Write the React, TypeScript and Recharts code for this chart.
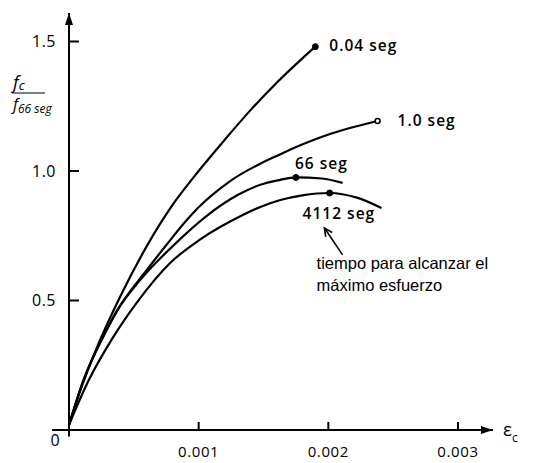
import React from 'react';
import { LineChart, Line, XAxis, YAxis, ReferenceDot, ReferenceLine } from 'recharts';

// strain (x) vs f_c / f_66seg (y)
const curve004 = [
  { x: 0, y: 0.02 }, { x: 0.0001, y: 0.17 }, { x: 0.0002, y: 0.3 }, { x: 0.0004, y: 0.52 },
  { x: 0.0006, y: 0.71 }, { x: 0.0008, y: 0.87 }, { x: 0.001, y: 1.0 }, { x: 0.0012, y: 1.12 },
  { x: 0.0014, y: 1.235 }, { x: 0.0016, y: 1.34 }, { x: 0.0018, y: 1.435 }, { x: 0.0019, y: 1.48 },
];
const curve1 = [
  { x: 0, y: 0.02 }, { x: 0.00011, y: 0.19 }, { x: 0.00029, y: 0.386 }, { x: 0.00037, y: 0.46 },
  { x: 0.0006, y: 0.618 }, { x: 0.00076, y: 0.72 }, { x: 0.00089, y: 0.8 }, { x: 0.00099, y: 0.855 },
  { x: 0.00124, y: 0.96 }, { x: 0.00163, y: 1.065 }, { x: 0.00199, y: 1.139 }, { x: 0.00238, y: 1.193 },
];
const curve66 = [
  { x: 0, y: 0.02 }, { x: 0.00011, y: 0.19 }, { x: 0.00029, y: 0.386 }, { x: 0.00037, y: 0.46 },
  { x: 0.00055, y: 0.58 }, { x: 0.0008, y: 0.71 }, { x: 0.00106, y: 0.826 }, { x: 0.0013, y: 0.907 },
  { x: 0.00147, y: 0.946 }, { x: 0.00163, y: 0.966 }, { x: 0.00175, y: 0.975 }, { x: 0.00195, y: 0.971 },
  { x: 0.00211, y: 0.954 },
];
const curve4112 = [
  { x: 0, y: 0.02 }, { x: 0.00015, y: 0.19 }, { x: 0.00033, y: 0.35 }, { x: 0.00052, y: 0.49 },
  { x: 0.00078, y: 0.645 }, { x: 0.00101, y: 0.735 }, { x: 0.00134, y: 0.83 }, { x: 0.00147, y: 0.86 },
  { x: 0.00163, y: 0.888 }, { x: 0.0018, y: 0.906 }, { x: 0.00201, y: 0.915 }, { x: 0.00222, y: 0.897 },
  { x: 0.00241, y: 0.857 },
];

const seriesCurves = [curve004, curve1, curve66, curve4112];
const markerPoints = [
  { x: 0.0019, y: 1.48 },
  { x: 0.00238, y: 1.193 },
  { x: 0.00175, y: 0.975 },
  { x: 0.00201, y: 0.915 },
];
const markerLabels = ['0.04 seg', '1.0 seg', '66 seg', '4112 seg'];
const arrowFrom = { x: 0.00211, y: 0.676 };
const arrowTo = { x: 0.00197, y: 0.78 };
const noteLines = ['tiempo para alcanzar el', 'máximo esfuerzo'];

const xTicks = [0, 0.001, 0.002, 0.003];
const yTicks = [0.5, 1.0, 1.5];

const labelFont = '"Open Sans", sans-serif';
// pixel offsets of the series labels from their marker
const labelOffsets = [
  { dx: 14, dy: -2 },
  { dx: 20, dy: -1 },
  { dx: -1, dy: -14 },
  { dx: -27, dy: 20 },
];

const YTick = (props: any) => {
  const { x, y, payload } = props;
  return (
    <g>
      <line x1={x} x2={x + 10} y1={y} y2={y} stroke="#000" strokeWidth={2} />
      <text x={x - 13} y={y} textAnchor="end" dominantBaseline="central" fontFamily={labelFont} fontSize={16} letterSpacing={0.5} fill="#000">
        {payload.value.toFixed(1)}
      </text>
    </g>
  );
};

const XTick = (props: any) => {
  const { x, y, payload } = props;
  if (payload.value === 0) {
    return (
      <text x={x - 14} y={y + 10} textAnchor="middle" dominantBaseline="central" fontFamily={labelFont} fontSize={16} fill="#000">
        0
      </text>
    );
  }
  return (
    <g>
      <line x1={x} x2={x} y1={y} y2={y - 8} stroke="#000" strokeWidth={2} />
      <text x={x} y={y + 21} textAnchor="middle" dominantBaseline="central" fontFamily={labelFont} fontSize={15} letterSpacing={0.6} fill="#000">
        {payload.value.toFixed(3)}
      </text>
    </g>
  );
};

const markerShape = (i: number) => (p: any) => {
  const open = i === 1;
  const off = labelOffsets[i];
  return (
    <g>
      <circle
        cx={p.cx}
        cy={p.cy}
        r={open ? 2.5 : 3}
        fill={open ? '#fff' : '#000'}
        stroke="#000"
        strokeWidth={open ? 1.5 : 1}
      />
      <text
        x={p.cx + off.dx}
        y={p.cy + off.dy}
        dominantBaseline="central"
        fontFamily={labelFont}
        fontWeight={600}
        fontSize={15.5}
        letterSpacing={1}
        fill="#000"
      >
        {markerLabels[i]}
      </text>
    </g>
  );
};

const arrowShape = (p: any) => {
  const { x1, y1, x2, y2 } = p;
  const ang = Math.atan2(y2 - y1, x2 - x1);
  const len = 9;
  const a1 = ang + Math.PI - 0.45;
  const a2 = ang + Math.PI + 0.45;
  return (
    <g>
      <line x1={x1} y1={y1} x2={x2} y2={y2} stroke="#000" strokeWidth={1.6} />
      <polyline
        points={`${x2 + len * Math.cos(a1)},${y2 + len * Math.sin(a1)} ${x2},${y2} ${x2 + len * Math.cos(a2)},${y2 + len * Math.sin(a2)}`}
        fill="none"
        stroke="#000"
        strokeWidth={1.6}
      />
      {noteLines.map((t, k) => (
        <text
          key={t}
          x={x1 - 26}
          y={y1 + 8 + k * 22}
          dominantBaseline="central"
          fontFamily='"Liberation Sans", Arial, sans-serif'
          fontSize={16.5}
          fill="#000"
        >
          {t}
        </text>
      ))}
    </g>
  );
};

const axisArrow = (dir: 'up' | 'right') => (p: any) => {
  const { cx, cy } = p;
  const pts =
    dir === 'up'
      ? `${cx},${cy} ${cx - 4},${cy + 12} ${cx + 4},${cy + 12}`
      : `${cx},${cy} ${cx - 12},${cy - 4} ${cx - 12},${cy + 4}`;
  return <polygon points={pts} fill="#000" />;
};

export default function App() {
  return (
    <div style={{ position: 'absolute', left: 0, top: 0, width: 533, height: 463, background: '#fff' }}>
      <LineChart width={533} height={463} margin={{ top: 13, right: 40, left: 0, bottom: 0 }}>
        <XAxis
          dataKey="x"
          type="number"
          domain={[0, 0.00327]}
          ticks={xTicks}
          tick={<XTick />}
          tickLine={false}
          tickSize={0}
          tickMargin={0}
          height={33}
          axisLine={{ stroke: '#000', strokeWidth: 2 }}
          allowDataOverflow
        />
        <YAxis
          type="number"
          domain={[0, 1.61]}
          ticks={yTicks}
          tick={<YTick />}
          tickLine={false}
          tickSize={0}
          tickMargin={0}
          width={69}
          axisLine={{ stroke: '#000', strokeWidth: 2 }}
          allowDataOverflow
        />
        <ReferenceLine
          segment={[{ x: 0, y: 0 }, { x: 0, y: -0.025 }]}
          stroke="#000"
          strokeWidth={2}
          ifOverflow="visible"
        />
        <ReferenceLine
          segment={[{ x: -0.00013, y: 0 }, { x: 0, y: 0 }]}
          stroke="#000"
          strokeWidth={2}
          ifOverflow="visible"
        />
        <ReferenceDot x={0} y={1.61} r={0} ifOverflow="visible" shape={axisArrow('up')} />
        <ReferenceDot x={0.00327} y={0} r={0} ifOverflow="visible" shape={axisArrow('right')} />
        {seriesCurves.map((d, i) => (
          <Line
            key={i}
            data={d}
            dataKey="y"
            type="monotone"
            dot={false}
            stroke="#000"
            strokeWidth={2.2}
            isAnimationActive={false}
          />
        ))}
        {markerPoints.map((m, i) => (
          <ReferenceDot key={i} x={m.x} y={m.y} r={3} ifOverflow="visible" shape={markerShape(i)} />
        ))}
        <ReferenceLine
          segment={[arrowFrom, arrowTo]}
          ifOverflow="visible"
          shape={arrowShape}
        />
      </LineChart>
      <svg width={533} height={463} style={{ position: 'absolute', left: 0, top: 0, pointerEvents: 'none' }}>
        <text x={13} y={89} fontFamily={labelFont} fontStyle="italic" fontSize={18} fill="#000">
          f<tspan fontSize={13} dy={1}>c</tspan>
        </text>
        <line x1={12} x2={45} y1={93} y2={93} stroke="#000" strokeWidth={1.2} />
        <text x={13} y={110} fontFamily={labelFont} fontStyle="italic" fontSize={16} fill="#000">
          f<tspan fontSize={12} dy={3}>66 seg</tspan>
        </text>
        <text x={503} y={436} fontFamily={labelFont} fontSize={19} fill="#000">
          ε<tspan fontSize={12} dy={6}>c</tspan>
        </text>
      </svg>
    </div>
  );
}
